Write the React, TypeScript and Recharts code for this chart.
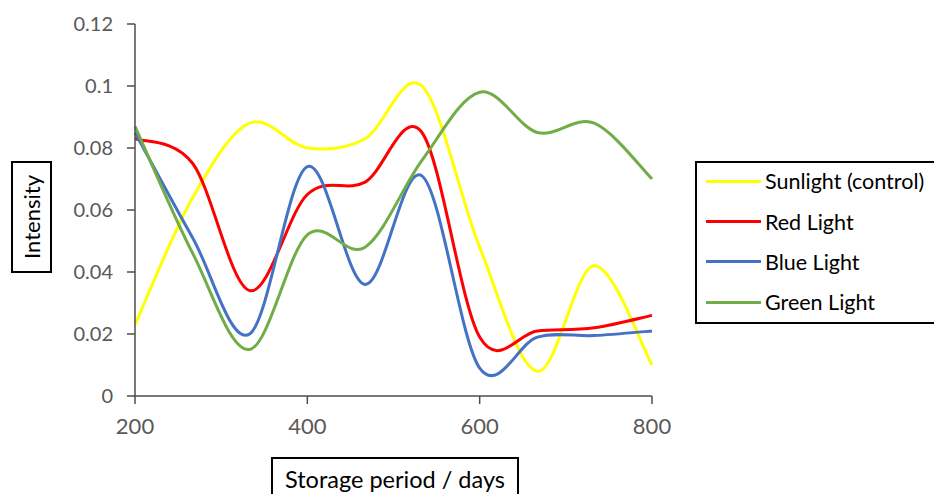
import { LineChart, Line, XAxis, YAxis } from "recharts";

document.body.style.margin = "0";

const days = [200, 267, 333, 400, 467, 533, 600, 667, 733, 800];
const sunlight = [0.023, 0.064, 0.088, 0.08, 0.083, 0.1, 0.048, 0.008, 0.042, 0.01];
const redLight = [0.083, 0.075, 0.034, 0.065, 0.069, 0.085, 0.019, 0.021, 0.022, 0.026];
const blueLight = [0.085, 0.051, 0.02, 0.074, 0.036, 0.071, 0.009, 0.019, 0.0195, 0.021];
const greenLight = [0.087, 0.046, 0.015, 0.052, 0.048, 0.076, 0.098, 0.085, 0.088, 0.07];

const xTicks = [200, 400, 600, 800];
const yTicks = [0, 0.02, 0.04, 0.06, 0.08, 0.1, 0.12];

const series = [
  { key: "sun", name: "Sunlight (control)", color: "#FFFF00" },
  { key: "red", name: "Red Light", color: "#FF0000" },
  { key: "blue", name: "Blue Light", color: "#4472C4" },
  { key: "green", name: "Green Light", color: "#70AD47" },
];

const data = days.map((d, i) => ({
  day: d,
  sun: sunlight[i],
  red: redLight[i],
  blue: blueLight[i],
  green: greenLight[i],
}));

// excel-ish smoothed line (catmull-rom through the points)
const smooth = (context: any) => {
  let pts: number[][] = [];
  return {
    areaStart() {},
    areaEnd() {},
    lineStart() {
      pts = [];
    },
    lineEnd() {
      const n = pts.length;
      if (!n) return;
      context.moveTo(pts[0][0], pts[0][1]);
      for (let i = 0; i < n - 1; i++) {
        const p0 = pts[Math.max(i - 1, 0)];
        const p1 = pts[i];
        const p2 = pts[i + 1];
        const p3 = pts[Math.min(i + 2, n - 1)];
        context.bezierCurveTo(
          p1[0] + (p2[0] - p0[0]) / 6,
          p1[1] + (p2[1] - p0[1]) / 6,
          p2[0] - (p3[0] - p1[0]) / 6,
          p2[1] - (p3[1] - p1[1]) / 6,
          p2[0],
          p2[1]
        );
      }
    },
    point(x: number, y: number) {
      pts.push([+x, +y]);
    },
  };
};

const font = "Lato, 'Open Sans', sans-serif";

export default function App() {
  return (
    <div style={{ position: "relative", width: 934, height: 494, overflow: "hidden", background: "#fff" }}>
      <LineChart
        width={934}
        height={494}
        data={data}
        margin={{ top: 24, right: 282, bottom: 0, left: 0 }}
      >
        <XAxis
          dataKey="day"
          type="number"
          domain={[200, 800]}
          ticks={xTicks}
          height={98}
          tickSize={8}
          tickMargin={14}
          stroke="#4d4d4d"
          strokeWidth={1.5}
          tick={{ fill: "#595959", fontSize: 22, fontFamily: font }}
        />
        <YAxis
          type="number"
          domain={[0, 0.12]}
          ticks={yTicks}
          width={135}
          tickSize={8}
          tickMargin={14}
          stroke="#4d4d4d"
          strokeWidth={1.5}
          tick={{ fill: "#595959", fontSize: 20, fontFamily: font }}
          tickFormatter={(v: number) => String(v)}
        />
        {series.map((s) => (
          <Line
            key={s.key}
            dataKey={s.key}
            name={s.name}
            type={smooth as any}
            stroke={s.color}
            strokeWidth={3}
            dot={false}
            activeDot={false}
            isAnimationActive={false}
          />
        ))}
      </LineChart>
      <div
        style={{
          position: "absolute",
          left: 695,
          top: 161,
          width: 250,
          height: 163,
          boxSizing: "border-box",
          border: "2px solid #000",
          background: "#fff",
          fontFamily: font,
          fontSize: 21.5,
          color: "#000",
        }}
      >
        {series.map((s) => (
          <div key={s.key} style={{ display: "flex", alignItems: "center", height: 40.4, paddingLeft: 9, marginTop: s.key === "sun" ? -2 : 0 }}>
            <div style={{ width: 55, height: 3, background: s.color, marginRight: 4 }} />
            <span>{s.name}</span>
          </div>
        ))}
      </div>
      <div
        style={{
          position: "absolute",
          left: 11,
          top: 161,
          width: 41,
          height: 112,
          boxSizing: "border-box",
          border: "2px solid #000",
          display: "flex",
          alignItems: "center",
          justifyContent: "center",
          fontFamily: font,
          fontSize: 22,
        }}
      >
        <span style={{ writingMode: "vertical-rl", transform: "rotate(180deg)", whiteSpace: "nowrap" }}>Intensity</span>
      </div>
      <div
        style={{
          position: "absolute",
          left: 271,
          top: 457,
          width: 248,
          height: 42,
          boxSizing: "border-box",
          border: "2px solid #000",
          paddingTop: 6,
          textAlign: "center",
          fontFamily: font,
          fontSize: 23.5,
          whiteSpace: "nowrap",
        }}
      >
        Storage period / days
      </div>
    </div>
  );
}
